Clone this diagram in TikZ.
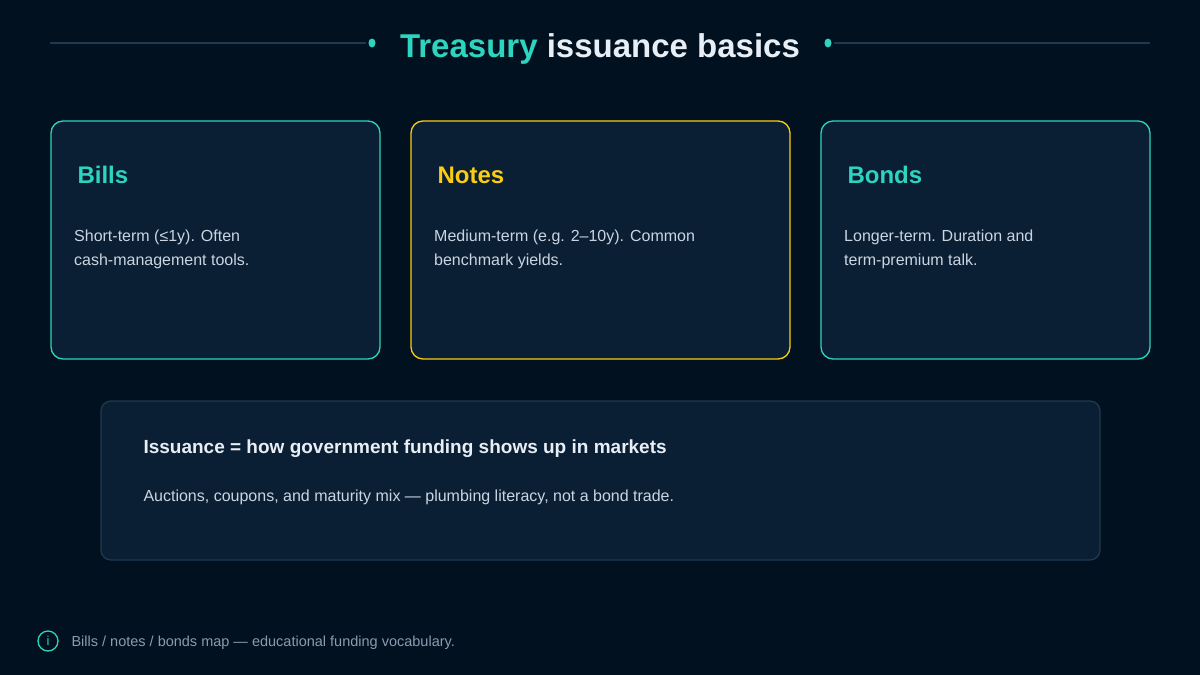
\documentclass[tikz,border=0pt]{standalone}
\usepackage{fontspec}
\setmainfont{Liberation Sans}
\definecolor{bg}{HTML}{02111F}
\definecolor{card}{HTML}{0A1F33}
\definecolor{teal}{HTML}{2DD4BF}
\definecolor{gold}{HTML}{FACC15}
\definecolor{body}{HTML}{CBD5E1}
\definecolor{foot}{HTML}{8A9BB0}
\definecolor{rule}{HTML}{1E3A50}
\definecolor{white2}{HTML}{E8EEF6}
\begin{document}
\begin{tikzpicture}[x=1pt,y=-1pt,
  box/.style={draw=teal,line width=1.3pt,fill=card,rounded corners=12pt},
  ttl/.style={anchor=base west,font=\fontsize{24}{28}\selectfont\bfseries},
  txt/.style={anchor=north west,align=left,text=body,font=\fontsize{16}{24}\selectfont,inner sep=0pt}]
\fill[bg] (0,0) rectangle (1200,675);
\useasboundingbox (0,0) rectangle (1200,675);
\draw[rule,line width=1.5pt] (50,43) -- (366,43);
\draw[rule,line width=1.5pt] (834,43) -- (1150,43);
\fill[teal] (372,43) ellipse (3.5pt and 4.5pt);
\fill[teal] (828,43) ellipse (3.5pt and 4.5pt);
\node[anchor=base,font=\fontsize{33}{38}\selectfont\bfseries] (title) at (600,57) {\textcolor{teal}{Treasury} \textcolor{white2}{issuance basics}};
\draw[box] (51,121) rectangle (380,359);
\draw[box,draw=gold] (411,121) rectangle (790,359);
\draw[box] (821,121) rectangle (1150,359);
\node[ttl,text=teal] (b1) at (74,183) {Bills};
\node[ttl,text=gold] (b2) at (434,183) {Notes};
\node[ttl,text=teal] (b3) at (844,183) {Bonds};
\node[txt] (t1) at (74,230) {Short-term (≤1y). Often\\cash-management tools.};
\node[txt] (t2) at (434,230) {Medium-term (e.g. 2–10y). Common\\benchmark yields.};
\node[txt] (t3) at (844,230) {Longer-term. Duration and\\term-premium talk.};
\draw[draw=rule,line width=1.3pt,fill=card,rounded corners=10pt] (101,401) rectangle (1100,560);
\node[anchor=base west,text=white2,font=\fontsize{19}{22}\selectfont\bfseries] (s1) at (140,453) {Issuance = how government funding shows up in markets};
\node[anchor=base west,text=body,font=\fontsize{16}{20}\selectfont] (s2) at (140,501) {Auctions, coupons, and maturity mix — plumbing literacy, not a bond trade.};
\draw[teal,line width=1.3pt] (48,641) circle (10pt);
\node[text=teal,font=\fontsize{13}{14}\selectfont] (i) at (48,641) {i};
\node[anchor=base west,text=foot,font=\fontsize{14.5}{16}\selectfont] (f) at (68,646) {Bills / notes / bonds map — educational funding vocabulary.};
\end{tikzpicture}
\end{document}
